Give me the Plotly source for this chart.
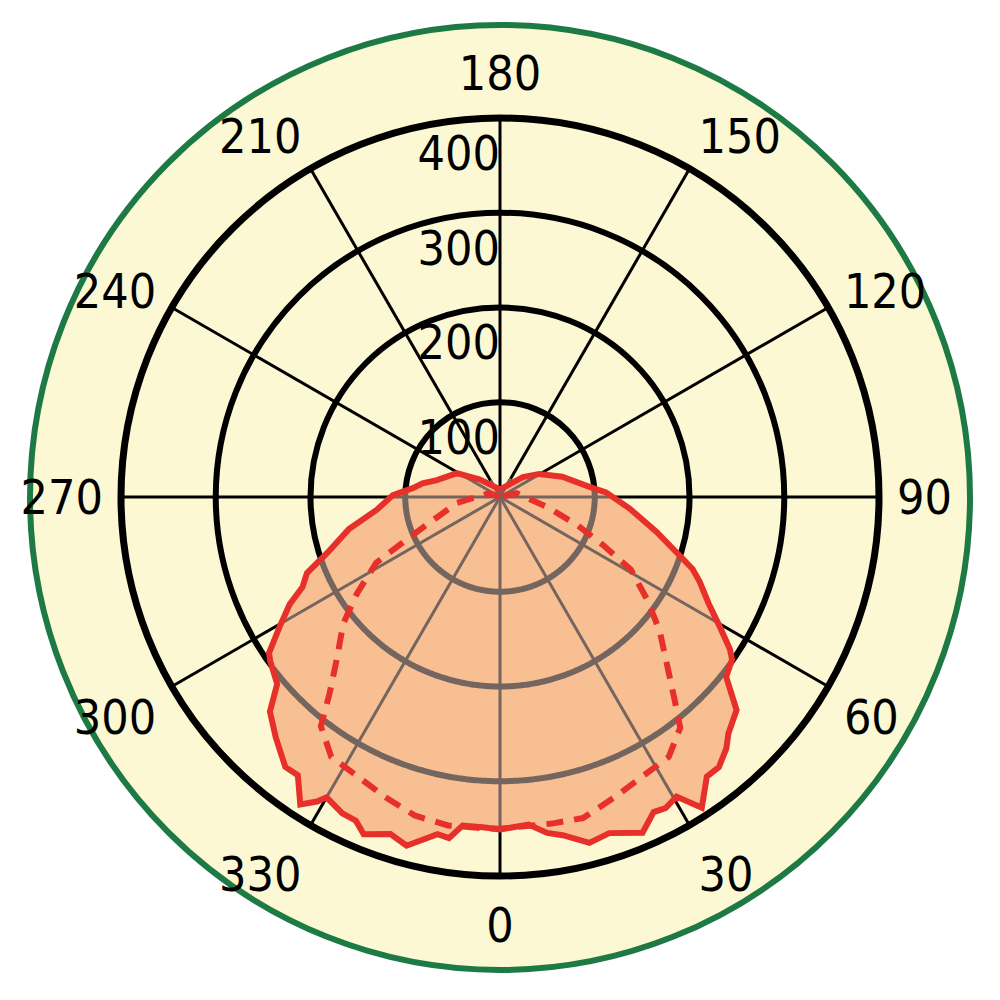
import numpy as np
import plotly.graph_objects as go

# ---- data (angles in degrees, 0 at bottom, counter-clockwise) ----
solid_theta = [180, 229, 241, 255, 260, 264, 269, 276, 282, 288, 291.5, 294.5, 297, 300.5, 304,
               305.5, 310, 313, 317, 321.5, 324, 327, 329, 330, 333.5, 336, 338, 342, 345, 349.5,
               351.5, 353.5, 357, 0, 5, 8, 10.5, 14.5, 18, 23, 26, 28, 30.5, 33, 36.5, 39, 42, 44,
               48, 51.5, 55, 56.5, 59.5, 63, 67, 69.5, 72, 77.5, 85, 92.5, 96.5, 108, 120.5, 131, 180]
solid_r = [8, 28, 52, 69, 83, 92, 113, 131, 163, 192, 219, 229, 249, 270, 294,
           298, 307, 332, 347, 364, 363, 387, 375, 366, 373, 374, 384, 374, 381, 362,
           364, 349, 349, 351, 347, 358, 363, 377, 373, 385, 370, 372, 367, 391, 367, 367, 357, 347,
           336, 305, 299, 291, 269, 247, 229, 217, 199, 169, 137, 112, 95, 69, 48, 32, 8]

dash_theta = [180, 250, 278, 290, 295, 298, 304, 309, 315, 319, 322, 327, 333, 339, 345, 351, 357,
              0, 9, 14.5, 21, 27, 33, 38, 41, 45, 50, 55, 61, 65, 70, 78, 103, 180]
dash_r = [0, 12, 46, 79, 113, 148, 182, 213, 244, 274, 307, 327, 331, 339, 348, 351, 350,
          350, 349, 350, 339, 331, 327, 309, 280, 249, 220, 190, 158, 120, 87, 51, 18, 0]

angle_ticks = list(range(0, 360, 30))
angle_labels = [str(a) for a in angle_ticks]
radial_ticks = [100, 200, 300, 400]
radial_labels = [str(v) for v in radial_ticks]

# ---- style ----
FONT = "Liberation Sans Narrow, Arial Narrow, DejaVu Sans Condensed, sans-serif"
BG = "#FCF8D3"
GREEN = "#1E7A45"
FILL = "#F8BF93"
RED = "#E8302A"
GREY = "#75655F"

# monotonic version of the solid curve for clipping grid lines to the filled area
T = np.array(solid_theta, dtype=float)
T[1:] = np.where(T[1:] <= 180, T[1:] + 360, T[1:])
R = np.array(solid_r, dtype=float)


def curve_r(th):
    th = np.asarray(th, dtype=float)
    th = np.where(th < 180, th + 360, th)
    return np.interp(th, T, R)


ring_th, ring_r = [], []
samp = np.arange(180, 540.001, 0.5)
rc = curve_r(samp % 360)
for rv in radial_ticks[:-1]:
    inside = rc > rv
    prev = False
    for th, ins in zip(samp, inside):
        if ins:
            ring_th.append(th % 360)
            ring_r.append(rv)
        elif prev:
            ring_th.append(None)
            ring_r.append(None)
        prev = ins
    ring_th.append(None)
    ring_r.append(None)

spoke_th, spoke_r = [], []
for a in angle_ticks:
    spoke_th += [a, a, None]
    spoke_r += [0, float(curve_r([a])[0]), None]

fig = go.Figure()
fig.add_trace(go.Scatterpolar(theta=solid_theta, r=solid_r, mode="lines", fill="toself",
                              fillcolor=FILL, line=dict(width=0, color=FILL), hoverinfo="skip"))
fig.add_trace(go.Scatterpolar(theta=ring_th, r=ring_r, mode="lines",
                              line=dict(width=6, color=GREY), hoverinfo="skip"))
fig.add_trace(go.Scatterpolar(theta=spoke_th, r=spoke_r, mode="lines",
                              line=dict(width=3, color=GREY), hoverinfo="skip"))
fig.add_trace(go.Scatterpolar(theta=dash_theta, r=dash_r, mode="lines",
                              line=dict(width=6, color=RED, dash="17px,11px")))
fig.add_trace(go.Scatterpolar(theta=solid_theta, r=solid_r, mode="lines",
                              line=dict(width=6, color=RED)))
fig.add_trace(go.Scatterpolar(theta=[180] * len(radial_ticks), r=[v - 42 for v in radial_ticks],
                              mode="text", text=radial_labels, textposition="middle left",
                              textfont=dict(family=FONT, size=48, color="black"),
                              hoverinfo="skip"))

fig.update_layout(
    width=1000, height=1000,
    margin=dict(l=0, r=0, t=0, b=0),
    paper_bgcolor="white",
    showlegend=False,
    font=dict(family=FONT, size=48, color="black"),
    shapes=[dict(type="circle", xref="paper", yref="paper",
                 x0=0.022, x1=0.962, y0=0.038, y1=0.983,
                 fillcolor=BG, line=dict(color=GREEN, width=6), layer="below")],
    polar=dict(
        domain=dict(x=[0.113, 0.871], y=[0.132, 0.890]),
        bgcolor=BG,
        angularaxis=dict(
            rotation=270, direction="counterclockwise",
            tickmode="array", tickvals=angle_ticks, ticktext=angle_labels,
            showgrid=True, gridcolor="black", gridwidth=3,
            showline=True, linecolor="black", linewidth=7,
            ticks="outside", ticklen=5, tickcolor="rgba(0,0,0,0)",
            tickfont=dict(family=FONT, size=48, color="black"),
        ),
        radialaxis=dict(
            range=[0, 400], tickmode="array", tickvals=radial_ticks,
            showgrid=True, gridcolor="black", gridwidth=6,
            showline=False, showticklabels=False, ticks="",
        ),
    ),
)

fig.write_html("out.html")
